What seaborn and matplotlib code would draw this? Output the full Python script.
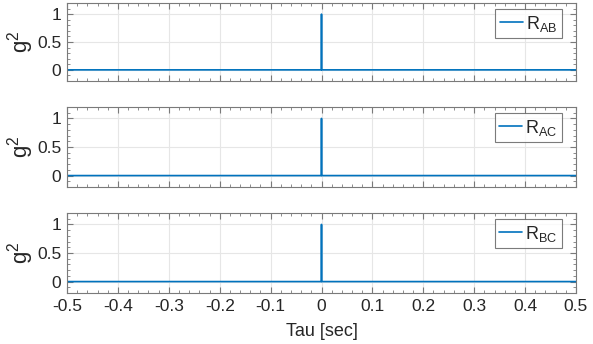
import matplotlib
matplotlib.use("Agg")
import matplotlib.pyplot as plt
from matplotlib.ticker import MultipleLocator
import pandas as pd
import seaborn as sns

# Data: correlation is ~0 everywhere except a unit spike at tau = 0
tau = [-0.5, -0.25, -0.0005, 0.0, 0.0005, 0.25, 0.5]
r_ab = [0.0, 0.0, 0.0, 1.0, 0.0, 0.0, 0.0]
r_ac = [0.0, 0.0, 0.0, 1.0, 0.0, 0.0, 0.0]
r_bc = [0.0, 0.0, 0.0, 1.0, 0.0, 0.0, 0.0]
labels = [r"R$_{\mathrm{AB}}$", r"R$_{\mathrm{AC}}$", r"R$_{\mathrm{BC}}$"]

sns.set_style("white")
plt.rcParams["font.family"] = ["Liberation Sans", "DejaVu Sans"]
plt.rcParams["mathtext.fontset"] = "custom"
plt.rcParams["mathtext.rm"] = "Liberation Sans"

blue = "#0072BD"
edge = "#7a7a7a"
txt = "#262626"

fig = plt.figure(figsize=(5.93, 3.44), dpi=100)
W, H = 593, 344
left, right = 67, 576
rows = [(3, 81), (107, 187), (213, 293)]
aw = right - left

for i, (series, lab) in enumerate(zip([r_ab, r_ac, r_bc], labels)):
    top, bot = rows[i]
    ah = bot - top
    ax = fig.add_axes([left / W, 1 - bot / H, aw / W, ah / H])
    df = pd.DataFrame({"tau": tau, "g2": series})
    sns.lineplot(data=df, x="tau", y="g2", ax=ax, color=blue, linewidth=1.2, label=lab)
    ax.set_xlim(-0.5, 0.5)
    ax.set_ylim(-0.2, 1.2)
    ax.set_yticks([0, 0.5, 1])
    ax.set_yticklabels(["0", "0.5", "1"])
    ax.xaxis.set_major_locator(MultipleLocator(0.1))
    ax.xaxis.set_minor_locator(MultipleLocator(0.02))
    ax.yaxis.set_minor_locator(MultipleLocator(0.1))
    ax.grid(True, which="major", color="#e6e6e6", linewidth=0.8)
    ax.set_axisbelow(True)
    ax.tick_params(which="both", direction="in", top=True, right=True,
                   bottom=True, left=True, color=edge, labelsize=12.5,
                   labelcolor=txt, pad=4)
    ax.tick_params(which="major", length=4, width=0.8)
    ax.tick_params(which="minor", length=2, width=0.6)
    for s in ax.spines.values():
        s.set_color(edge)
        s.set_linewidth(0.8)
    ax.set_ylabel(r"g$^{2}$", fontsize=16, color=txt, labelpad=1)
    if i < 2:
        ax.set_xlabel("")
        ax.set_xticklabels([])
    else:
        xt = [-0.5, -0.4, -0.3, -0.2, -0.1, 0, 0.1, 0.2, 0.3, 0.4, 0.5]
        ax.set_xticks(xt)
        ax.set_xticklabels(["-0.5", "-0.4", "-0.3", "-0.2", "-0.1", "0",
                            "0.1", "0.2", "0.3", "0.4", "0.5"])
        ax.set_xlabel("Tau [sec]", fontsize=13, color=txt, labelpad=7)
    leg = ax.legend(loc="upper right", bbox_to_anchor=(1 - 14 / aw, 1 - 6 / ah),
                    fontsize=13, frameon=True, fancybox=False,
                    handlelength=1.25, handletextpad=0.2, borderpad=0.25,
                    borderaxespad=0.0)
    leg.get_frame().set_edgecolor("#5a5a5a")
    leg.get_frame().set_linewidth(0.8)
    for t in leg.get_texts():
        t.set_color(txt)

fig.savefig("out.png", dpi=100)
